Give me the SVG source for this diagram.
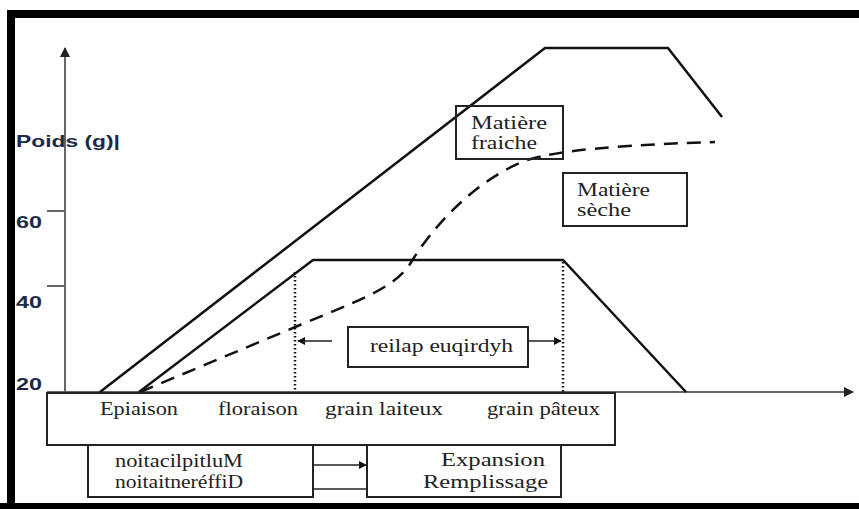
<svg xmlns="http://www.w3.org/2000/svg" width="859" height="509" viewBox="0 0 859 509">
<style>
.ax{stroke:#666;stroke-width:2;fill:none}
.ln{stroke:#111;stroke-width:2.5;fill:none;stroke-linejoin:miter}
.dash{stroke:#111;stroke-width:2.5;fill:none;stroke-dasharray:14 9}
.dot{stroke:#111;stroke-width:2.5;fill:none;stroke-dasharray:1.5 2.5}
.box{stroke:#222;stroke-width:2;fill:none}
.wbox{stroke:#222;stroke-width:2;fill:#fff}
.yl{font-family:"Liberation Sans",Arial,sans-serif;font-weight:bold;font-size:17px;fill:#1c2a48}
.t{font-family:"Liberation Serif","Times New Roman",serif;font-size:18px;fill:#222}
.thin{stroke:#222;stroke-width:1.3;fill:none}
</style>
<defs>
<marker id="ah" viewBox="0 0 10 10" refX="9" refY="5" markerWidth="6" markerHeight="6" orient="auto"><path d="M0,0 L10,5 L0,10 z" fill="#111"/></marker>
<marker id="ahg" viewBox="0 0 10 10" refX="9" refY="5" markerWidth="5" markerHeight="5" orient="auto"><path d="M0,0 L10,5 L0,10 z" fill="#222"/></marker>
</defs>
<rect x="0" y="0" width="859" height="509" fill="#fff"/>
<path d="M11,506 L11,14 L870,14" fill="none" stroke="#000" stroke-width="8"/>
<line x1="0" y1="506" x2="859" y2="506" stroke="#000" stroke-width="6"/>
<g id="axes">
<line class="ax" x1="65" y1="398" x2="65" y2="48" marker-end="url(#ahg)"/>
<line class="ax" x1="47" y1="392" x2="853" y2="392" marker-end="url(#ahg)"/>
<line class="ax" x1="47" y1="211" x2="65" y2="211"/>
<line class="ax" x1="47" y1="286" x2="65" y2="286"/>
<text class="yl" x="16" y="147" textLength="104" lengthAdjust="spacingAndGlyphs">Poids (g)|</text>
<text class="yl" x="16" y="228" textLength="26" lengthAdjust="spacingAndGlyphs">60</text>
<text class="yl" x="16" y="308" textLength="26" lengthAdjust="spacingAndGlyphs">40</text>
<text class="yl" x="16" y="390" textLength="26" lengthAdjust="spacingAndGlyphs">20</text>
</g>
<g id="connectors">
<path id="fraiche-curve" class="ln" d="M100,392 L545,48 L668,48 L722,117"/>
<path id="seche-curve" class="ln" d="M139,392 L313,260 L563,260 L686,392"/>
<path id="dashed" class="dash" d="M140,392 L300,325 C355,302 395,288 410,264 C428,234 470,182 527,160 C560,150 620,145 715,142"/>
<line class="dot" x1="295" y1="272" x2="295" y2="392"/>
<line class="dot" x1="563" y1="262" x2="563" y2="392"/>
<line class="thin" x1="332" y1="341" x2="298" y2="341" marker-end="url(#ah)"/>
<line class="thin" x1="528" y1="341" x2="561" y2="341" marker-end="url(#ah)"/>
<line class="thin" x1="313" y1="465" x2="366" y2="465" marker-end="url(#ah)"/>
<line class="thin" x1="313" y1="489" x2="367" y2="489"/>
</g>
<g id="matiere-fraiche">
<rect class="box" x="456" y="106" width="107" height="53"/>
<text class="t" x="471" y="129" textLength="76" lengthAdjust="spacingAndGlyphs">Matière</text>
<text class="t" x="471" y="149" textLength="66" lengthAdjust="spacingAndGlyphs">fraiche</text>
</g>
<g id="matiere-seche">
<rect class="box" x="563" y="173" width="124" height="53"/>
<text class="t" x="577" y="196" textLength="73" lengthAdjust="spacingAndGlyphs">Matière</text>
<text class="t" x="577" y="216" textLength="54" lengthAdjust="spacingAndGlyphs">sèche</text>
</g>
<g id="hydrique">
<rect class="box" x="348" y="327" width="180" height="40"/>
<text class="t" x="370" y="352" textLength="143" lengthAdjust="spacingAndGlyphs">reilap euqirdyh</text>
</g>
<g id="stages">
<rect class="wbox" x="47" y="393" width="568" height="52"/>
<text class="t" x="100" y="415" textLength="78" lengthAdjust="spacingAndGlyphs">Epiaison</text>
<text class="t" x="218" y="415" textLength="80" lengthAdjust="spacingAndGlyphs">floraison</text>
<text class="t" x="325" y="415" textLength="118" lengthAdjust="spacingAndGlyphs">grain laiteux</text>
<text class="t" x="487" y="415" textLength="113" lengthAdjust="spacingAndGlyphs">grain pâteux</text>
</g>
<g id="multiplication">
<rect class="box" x="88" y="445" width="225" height="52"/>
<text class="t" x="115" y="467" textLength="128" lengthAdjust="spacingAndGlyphs">noitacilpitluM</text>
<text class="t" x="115" y="488" textLength="128" lengthAdjust="spacingAndGlyphs">noitaitneréffiD</text>
</g>
<g id="expansion">
<rect class="box" x="367" y="445" width="194" height="52"/>
<text class="t" x="441" y="466" textLength="104" lengthAdjust="spacingAndGlyphs">Expansion</text>
<text class="t" x="423" y="488" textLength="125" lengthAdjust="spacingAndGlyphs">Remplissage</text>
</g>
</svg>
